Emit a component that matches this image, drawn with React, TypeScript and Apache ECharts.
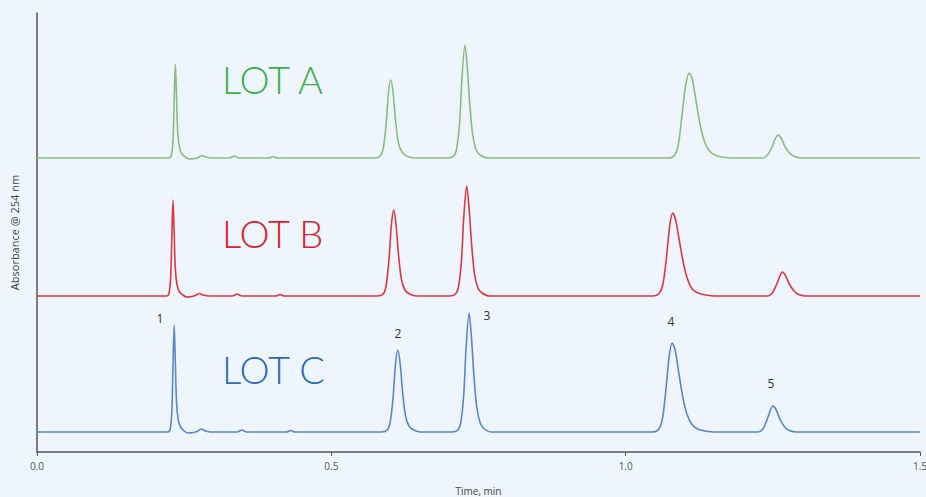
import React, { useEffect, useRef } from "react";
import * as echarts from "echarts";

const xTicks = [0, 0.5, 1.0, 1.5];

// Signals (time in min, signal above each trace's baseline)
const lotC: [number, number][] = [
  [0, 0], [0.222, 0], [0.226, 2], [0.229, 20], [0.231, 65], [0.233, 107], [0.235, 70], [0.237, 30], [0.24, 12], [0.244, 5], [0.25, 1], [0.256, -1], [0.266, -0.5], [0.272, 0.5], [0.279, 3], [0.286, 1], [0.296, 0], [0.34, 0], [0.348, 2], [0.356, 0], [0.424, 0], [0.431, 1.5], [0.438, 0],
  [0.585, 0], [0.595, 2], [0.6, 10], [0.605, 35], [0.609, 68], [0.613, 82], [0.617, 68], [0.621, 40], [0.626, 16], [0.632, 6], [0.64, 2], [0.652, 0],
  [0.705, 0], [0.715, 2], [0.72, 10], [0.725, 38], [0.729, 85], [0.734, 119], [0.738, 95], [0.742, 58], [0.747, 25], [0.753, 9], [0.76, 3], [0.772, 0],
  [1.045, 0], [1.055, 2], [1.062, 12], [1.068, 40], [1.074, 76], [1.079, 89], [1.084, 82], [1.09, 60], [1.097, 35], [1.104, 18], [1.112, 8], [1.122, 3], [1.135, 1], [1.15, 0],
  [1.225, 0], [1.233, 3], [1.24, 12], [1.246, 22], [1.25, 26], [1.255, 23], [1.262, 13], [1.27, 5], [1.278, 1.5], [1.29, 0], [1.5, 0],
];

const lotB: [number, number][] = [
  [0, 0], [0.22, 0], [0.224, 2], [0.227, 18], [0.229, 58], [0.231, 96], [0.233, 63], [0.235, 27], [0.238, 11], [0.242, 4], [0.248, 1], [0.254, -1], [0.263, -0.5], [0.269, 0.5], [0.275, 2.5], [0.282, 1], [0.292, 0], [0.332, 0], [0.34, 2], [0.348, 0], [0.406, 0], [0.413, 1.5], [0.42, 0],
  [0.578, 0], [0.588, 2], [0.593, 10], [0.598, 37], [0.602, 71], [0.606, 86], [0.61, 71], [0.614, 42], [0.619, 17], [0.625, 6], [0.633, 2], [0.645, 0],
  [0.701, 0], [0.711, 2], [0.716, 9], [0.721, 35], [0.725, 79], [0.73, 110], [0.734, 88], [0.738, 54], [0.743, 23], [0.749, 8], [0.756, 3], [0.768, 0],
  [1.046, 0], [1.056, 2], [1.063, 11], [1.069, 37], [1.075, 71], [1.08, 83], [1.085, 76], [1.091, 56], [1.098, 33], [1.105, 17], [1.113, 7], [1.123, 3], [1.136, 1], [1.151, 0],
  [1.241, 0], [1.249, 3], [1.256, 11], [1.262, 20], [1.266, 24], [1.271, 21], [1.278, 12], [1.286, 5], [1.294, 1.5], [1.306, 0], [1.5, 0],
];

const lotA: [number, number][] = [
  [0, 0], [0.224, 0], [0.228, 2], [0.231, 18], [0.233, 57], [0.235, 94], [0.237, 62], [0.239, 26], [0.242, 11], [0.246, 4], [0.252, 1], [0.258, -1], [0.268, -0.5], [0.274, 0.5], [0.28, 2.5], [0.287, 1], [0.297, 0], [0.327, 0], [0.335, 2], [0.343, 0], [0.394, 0], [0.401, 1.5], [0.408, 0],
  [0.573, 0], [0.583, 2], [0.588, 9], [0.593, 33], [0.597, 65], [0.601, 78], [0.605, 65], [0.609, 38], [0.614, 15], [0.62, 6], [0.628, 2], [0.64, 0],
  [0.698, 0], [0.708, 2], [0.713, 10], [0.718, 36], [0.722, 81], [0.727, 113], [0.731, 90], [0.735, 55], [0.74, 24], [0.746, 8], [0.753, 3], [0.765, 0],
  [1.072, 0], [1.082, 2], [1.089, 12], [1.095, 39], [1.102, 73], [1.108, 85], [1.113, 79], [1.119, 59], [1.126, 35], [1.133, 18], [1.141, 8], [1.151, 3], [1.164, 1], [1.18, 0],
  [1.233, 0], [1.241, 3], [1.248, 10], [1.254, 19], [1.259, 23], [1.264, 20], [1.271, 11], [1.279, 4.5], [1.287, 1.5], [1.299, 0], [1.5, 0],
];

// Vertical offsets of the stacked traces
const offsetC = 20;
const offsetB = 156;
const offsetA = 294;

const peakNumbers = ["1", "2", "3", "4", "5"];

export default function App() {
  const ref = useRef<HTMLDivElement>(null);

  useEffect(() => {
    if (!ref.current) return;
    const chart = echarts.init(ref.current, null, { renderer: "svg" });
    const shift = (d: [number, number][], o: number) => d.map(([t, v]) => [t, v + o]);
    const mkSeries = (name: string, d: [number, number][], o: number, color: string) => ({
      name,
      type: "line",
      data: shift(d, o),
      showSymbol: false,
      smooth: 0.3,
      lineStyle: { color, width: 1.6 },
      z: 3,
    });
    const numPos = [
      [160, 318],
      [398, 333],
      [487, 315],
      [671, 321],
      [771, 383],
    ];
    chart.setOption({
      animation: false,
      backgroundColor: "#eef5fc",
      grid: { left: 37, right: 6, top: 13, bottom: 45, outerBoundsMode: "none", containLabel: false },
      xAxis: {
        type: "value",
        min: 0,
        max: 1.5,
        interval: 0.5,
        name: "Time, min",
        nameLocation: "middle",
        nameGap: 33,
        nameTextStyle: { fontFamily: "Open Sans", fontSize: 10, lineHeight: 12, color: "#444" },
        axisLine: { show: true, lineStyle: { color: "#555", width: 1.5 } },
        axisTick: { show: true, length: 4, lineStyle: { color: "#555" } },
        axisLabel: {
          formatter: (v: number) => (xTicks.includes(v) ? v.toFixed(1) : ""),
          fontFamily: "Open Sans",
          fontSize: 10,
          color: "#555",
          margin: 9,
        },
        splitLine: { show: false },
      },
      yAxis: {
        type: "value",
        min: 0,
        max: 439,
        name: "Absorbance @ 254 nm",
        nameLocation: "middle",
        nameGap: 17,
        nameTextStyle: { fontFamily: "Open Sans", fontSize: 11, color: "#444" },
        axisLine: { show: true, lineStyle: { color: "#555", width: 1.5 } },
        axisTick: { show: false },
        axisLabel: { show: false },
        splitLine: { show: false },
      },
      series: [
        mkSeries("LOT A", lotA, offsetA, "#8cbd7f"),
        mkSeries("LOT B", lotB, offsetB, "#e0363d"),
        mkSeries("LOT C", lotC, offsetC, "#5b87c8"),
      ],
      graphic: [
        { type: "text", left: 222, top: 60, style: { text: "LOT A", fill: "#3daf4a", fontFamily: "Lato", fontSize: 38, fontWeight: 300 } },
        { type: "text", left: 222, top: 214, style: { text: "LOT B", fill: "#d8242f", fontFamily: "Lato", fontSize: 38, fontWeight: 300 } },
        { type: "text", left: 222, top: 350, style: { text: "LOT C", fill: "#2a6cbd", fontFamily: "Lato", fontSize: 38, fontWeight: 300 } },
        ...peakNumbers.map((n, i) => ({
          type: "text",
          x: numPos[i][0],
          y: numPos[i][1],
          style: { text: n, fill: "#333", fontFamily: "Open Sans", fontSize: 12, align: "center", verticalAlign: "middle" },
        })),
      ],
    });
    return () => chart.dispose();
  }, []);

  return <div ref={ref} style={{ position: "fixed", left: 0, top: 0, width: 926, height: 497 }} />;
}
